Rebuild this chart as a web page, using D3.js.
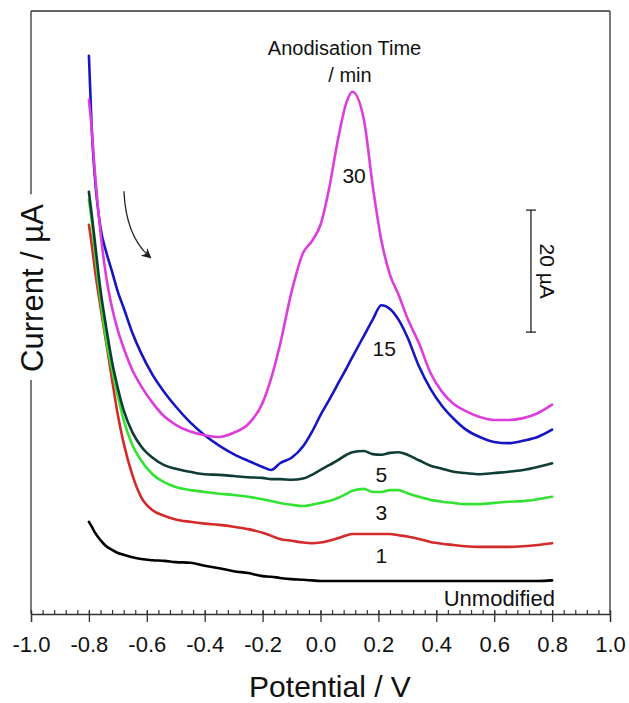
<!DOCTYPE html>
<html>
<head>
<meta charset="utf-8">
<script src="https://cdn.jsdelivr.net/npm/d3@7"></script>
<style>
  body { margin: 0; background: #fff; }
  svg { display: block; font-family: "Liberation Sans", Arial, sans-serif; }
</style>
</head>
<body>
<div id="chart"></div>
<script>
// potential grid (V), shared by all traces
const potential = [-0.80, -0.79, -0.78, -0.76, -0.74, -0.72, -0.70, -0.68, -0.65, -0.62,
  -0.58, -0.54, -0.50, -0.45, -0.40, -0.35, -0.30, -0.25, -0.20, -0.17,
  -0.14, -0.10, -0.06, -0.03, 0.00, 0.03, 0.06, 0.09, 0.11, 0.15,
  0.18, 0.21, 0.24, 0.27, 0.30, 0.34, 0.38, 0.42, 0.46, 0.50,
  0.55, 0.60, 0.65, 0.70, 0.75, 0.80];

// current (uA), offset so the unmodified baseline sits at 0
const unmodified = [9.7, 8.9, 8.0, 6.7, 5.7, 5.1, 4.6, 4.3, 3.9, 3.6,
  3.4, 3.3, 3.1, 3.0, 2.5, 2.1, 1.6, 1.3, 0.8, 0.7,
  0.5, 0.3, 0.2, 0.1, 0.0, 0.0, 0.0, 0.0, 0.0, 0.0,
  0.0, 0.0, 0.0, 0.0, 0.0, 0.0, 0.0, 0.0, 0.0, 0.0,
  0.0, 0.0, 0.0, 0.0, 0.0, 0.1];
const min1 = [58.4, 55.1, 51.3, 44.9, 39.0, 33.0, 27.2, 22.6, 17.4, 13.8,
  11.6, 10.7, 10.1, 9.7, 9.4, 9.2, 8.9, 8.5, 7.9, 7.4,
  6.9, 6.6, 6.3, 6.2, 6.3, 6.6, 7.0, 7.5, 7.7, 7.7,
  7.7, 7.7, 7.7, 7.5, 7.3, 6.9, 6.4, 6.1, 5.9, 5.7,
  5.6, 5.6, 5.6, 5.7, 5.9, 6.2];
const min3 = [62.5, 58.9, 54.3, 46.1, 39.5, 34.6, 30.3, 26.4, 22.3, 19.8,
  17.5, 16.2, 15.4, 14.9, 14.6, 14.3, 14.1, 13.8, 13.4, 13.1,
  12.8, 12.5, 12.3, 12.5, 12.8, 13.1, 13.6, 14.3, 14.8, 15.1,
  14.6, 14.6, 14.9, 14.9, 14.4, 13.8, 13.3, 13.0, 12.8, 12.6,
  12.6, 12.8, 13.0, 13.1, 13.4, 13.8];
const min5 = [63.8, 60.0, 55.9, 47.7, 41.5, 35.9, 31.6, 28.0, 24.4, 22.1,
  20.2, 19.0, 18.4, 17.9, 17.5, 17.4, 17.2, 17.0, 16.9, 16.7,
  16.7, 16.6, 16.8, 17.4, 18.2, 19.0, 19.8, 20.7, 21.1, 21.3,
  20.8, 20.7, 21.0, 21.1, 20.7, 19.8, 18.9, 18.4, 17.9, 17.7,
  17.5, 17.7, 17.9, 18.2, 18.7, 19.3];
const min15 = [86.1, 73.9, 66.6, 57.9, 53.9, 50.7, 47.4, 44.8, 40.7, 37.4,
  33.8, 31.0, 28.6, 26.0, 23.9, 22.2, 20.8, 19.7, 18.7, 18.2,
  19.3, 20.2, 22.1, 24.4, 27.2, 29.7, 32.3, 34.9, 36.7, 40.2,
  42.8, 45.2, 44.6, 42.8, 40.0, 35.2, 31.5, 28.7, 26.6, 24.9,
  23.6, 22.8, 22.6, 23.0, 23.6, 24.8];
const min30 = [78.9, 73.9, 67.4, 57.2, 49.8, 44.8, 41.1, 38.2, 34.6, 32.0,
  29.2, 27.0, 25.6, 24.5, 23.9, 23.6, 24.3, 25.7, 29.2, 33.3,
  38.7, 47.4, 53.8, 55.7, 58.4, 64.4, 72.3, 78.5, 80.2, 75.6,
  64.9, 55.9, 50.2, 46.9, 43.1, 39.0, 34.1, 31.0, 29.0, 27.9,
  26.9, 26.4, 26.4, 26.7, 27.5, 28.9];

const seriesNames = ["Unmodified", "1", "3", "5", "15", "30"];
const seriesValues = [unmodified, min1, min3, min5, min15, min30];
const seriesColors = ["#000000", "#d42a2a", "#33e233", "#0f3d36", "#1515c4", "#dc3ddc"];

const xTicks = [-1.0, -0.8, -0.6, -0.4, -0.2, 0.0, 0.2, 0.4, 0.6, 0.8, 1.0];
const xMinorTicks = d3.range(-1.0, 1.0001, 0.04);

const W = 629, H = 703;
const svg = d3.select("#chart").append("svg")
  .attr("width", W)
  .attr("height", H);

const x = d3.scaleLinear().domain([-1, 1]).range([31, 610]);
const y = d3.scaleLinear().domain([-5.41, 93.44]).range([614, 11]);

const line = d3.line()
  .x(d => x(d[0]))
  .y(d => y(d[1]))
  .curve(d3.curveMonotoneX);

// frame: top + right
svg.append("line")
  .attr("x1", x(-1)).attr("x2", x(1))
  .attr("y1", y.range()[1]).attr("y2", y.range()[1])
  .attr("stroke", "#333").attr("stroke-width", 1.3);
svg.append("line")
  .attr("x1", x(1)).attr("x2", x(1))
  .attr("y1", y.range()[1]).attr("y2", y.range()[0])
  .attr("stroke", "#333").attr("stroke-width", 1.3);

// bottom axis, minor ticks inside
svg.append("g")
  .attr("transform", `translate(0,${y.range()[0]})`)
  .call(d3.axisBottom(x).tickValues(xMinorTicks).tickSize(-4).tickFormat(""))
  .call(g => g.select(".domain").remove())
  .selectAll("line").attr("stroke", "#333").attr("stroke-width", 1.2);

const xAxis = svg.append("g")
  .attr("transform", `translate(0,${y.range()[0]})`)
  .call(d3.axisBottom(x).tickValues(xTicks).tickSizeOuter(0).tickSize(8).tickPadding(14)
    .tickFormat(d => d.toFixed(1)));
xAxis.select(".domain").attr("stroke", "#333").attr("stroke-width", 1.3);
xAxis.selectAll(".tick line").attr("y1", -3).attr("stroke", "#333").attr("stroke-width", 1.3);
xAxis.selectAll(".tick text")
  .attr("fill", "#111")
  .style("font-size", "22px")
  .style("font-family", "'Liberation Sans', Arial, sans-serif");

svg.append("text")
  .attr("x", 330)
  .attr("y", 697)
  .attr("text-anchor", "middle")
  .style("font-size", "30px")
  .attr("fill", "#111")
  .text("Potential / V");

// y label breaks the left frame line
const yLabelCenter = 288;
const yLabel = svg.append("text")
  .attr("transform", `translate(43,${yLabelCenter}) rotate(-90)`)
  .attr("text-anchor", "middle")
  .style("font-size", "31px")
  .attr("fill", "#111")
  .text("Current / \u00B5A");
const yLabelLen = yLabel.node().getComputedTextLength();
svg.append("line")
  .attr("x1", x(-1)).attr("x2", x(-1))
  .attr("y1", y.range()[1]).attr("y2", yLabelCenter - yLabelLen / 2 - 10)
  .attr("stroke", "#333").attr("stroke-width", 1.3);
svg.append("line")
  .attr("x1", x(-1)).attr("x2", x(-1))
  .attr("y1", yLabelCenter + yLabelLen / 2 + 8).attr("y2", y.range()[0])
  .attr("stroke", "#333").attr("stroke-width", 1.3);

// traces
seriesValues.forEach((vals, i) => {
  svg.append("path")
    .datum(potential.map((p, j) => [p, vals[j]]))
    .attr("fill", "none")
    .attr("stroke", seriesColors[i])
    .attr("stroke-width", 2.6)
    .attr("stroke-linejoin", "round")
    .attr("stroke-linecap", "round")
    .attr("d", line);
});

// trace labels
const labelPos = [[0.81, -4.1, "end"], [0.21, 2.95, "middle"], [0.21, 10.0, "middle"],
  [0.21, 16.2, "middle"], [0.22, 36.9, "middle"], [0.116, 65.2, "middle"]];
seriesNames.forEach((name, i) => {
  svg.append("text")
    .attr("x", x(labelPos[i][0]))
    .attr("y", y(labelPos[i][1]))
    .attr("text-anchor", labelPos[i][2])
    .style("font-size", i === 0 ? "22px" : "21px")
    .attr("fill", "#111")
    .text(name);
});

svg.append("text")
  .attr("x", x(0.083))
  .attr("y", 55)
  .attr("text-anchor", "middle")
  .style("font-size", "20px")
  .attr("fill", "#111")
  .text("Anodisation Time");
svg.append("text")
  .attr("x", x(0.102))
  .attr("y", 82)
  .attr("text-anchor", "middle")
  .style("font-size", "20px")
  .attr("fill", "#111")
  .text("/ min");

// scale bar 20 uA
const barX = x(0.727), barBottom = 40.8, barLen = 20;
const bar = svg.append("g").attr("stroke", "#222").attr("stroke-width", 1.3);
bar.append("line").attr("x1", barX).attr("x2", barX).attr("y1", y(barBottom)).attr("y2", y(barBottom + barLen));
bar.append("line").attr("x1", barX - 5).attr("x2", barX + 5).attr("y1", y(barBottom)).attr("y2", y(barBottom));
bar.append("line").attr("x1", barX - 5).attr("x2", barX + 5).attr("y1", y(barBottom + barLen)).attr("y2", y(barBottom + barLen));
svg.append("text")
  .attr("transform", `translate(${barX + 9},${y(barBottom + barLen / 2)}) rotate(90)`)
  .attr("text-anchor", "middle")
  .style("font-size", "21px")
  .attr("fill", "#111")
  .text("20 \u00B5A");

// scan direction arrow
svg.append("defs").append("marker")
  .attr("id", "head")
  .attr("viewBox", "0 0 10 10")
  .attr("refX", 8).attr("refY", 5)
  .attr("markerWidth", 10).attr("markerHeight", 10)
  .attr("markerUnits", "userSpaceOnUse")
  .attr("orient", "auto")
  .append("path").attr("d", "M0,0 L10,5 L0,10 L3,5 Z").attr("fill", "#222");
svg.append("path")
  .attr("d", `M${x(-0.679)},${y(63.9)} Q${x(-0.672)},${y(56.5)} ${x(-0.589)},${y(53.1)}`)
  .attr("fill", "none")
  .attr("stroke", "#222")
  .attr("stroke-width", 1.3)
  .attr("marker-end", "url(#head)");
</script>
</body>
</html>
